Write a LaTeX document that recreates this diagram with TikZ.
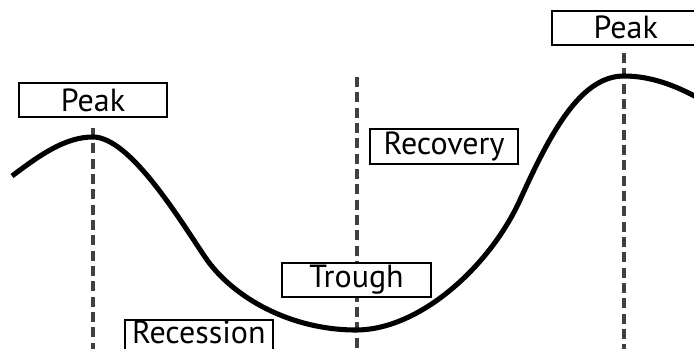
\documentclass[tikz,border=0pt]{standalone}
\usepackage{fontspec}
\setmainfont{PT Sans}
\begin{document}
\begin{tikzpicture}[x=0.75pt,y=-0.75pt,
  label box/.style={draw=black,line width=1.2pt,fill=white,inner sep=0pt,font=\fontsize{24}{26}\selectfont},
  phase line/.style={draw=black!75,line width=3pt,dash pattern=on 7.5pt off 4pt},
  cycle curve/.style={draw=black,line width=3.8pt}]
\useasboundingbox (0,0) rectangle (694,349);
% phase lines
\coordinate (l1top) at (93,128);
\coordinate (l1bot) at (93,349);
\coordinate (l2top) at (357,77);
\coordinate (l2bot) at (357,349);
\coordinate (l3top) at (624,53);
\coordinate (l3bot) at (624,349);
\draw[phase line] (l1top) -- (l1bot);
\draw[phase line] (l2top) -- (l2bot);
\draw[phase line] (l3top) -- (l3bot);
% curve
\draw[cycle curve] (12,176) .. controls (40,155) and (65,137) .. (93,137)
  .. controls (130,137) and (180,220) .. (205,257)
  .. controls (232,297) and (290,330) .. (356,330)
  .. controls (420,330) and (490,266) .. (520,200)
  .. controls (550,134) and (580,76) .. (624,76)
  .. controls (650,76) and (675,85) .. (700,99);
% labels
\node[label box,minimum width=148*0.75pt,minimum height=34*0.75pt] (peak1) at (93,100) {Peak};
\node[label box,minimum width=148*0.75pt,minimum height=35*0.75pt] (recovery) at (444,146.5) {Recovery};
\node[label box,minimum width=149*0.75pt,minimum height=34*0.75pt] (trough) at (356.5,280) {Trough};
\node[label box,minimum width=148*0.75pt,minimum height=36*0.75pt,text depth=8pt,anchor=north west] (recession) at (124,319) {Recession};
\node[label box,minimum width=148*0.75pt,minimum height=34*0.75pt,anchor=north west] (peak2) at (551,10) {Peak};
\end{tikzpicture}
\end{document}
